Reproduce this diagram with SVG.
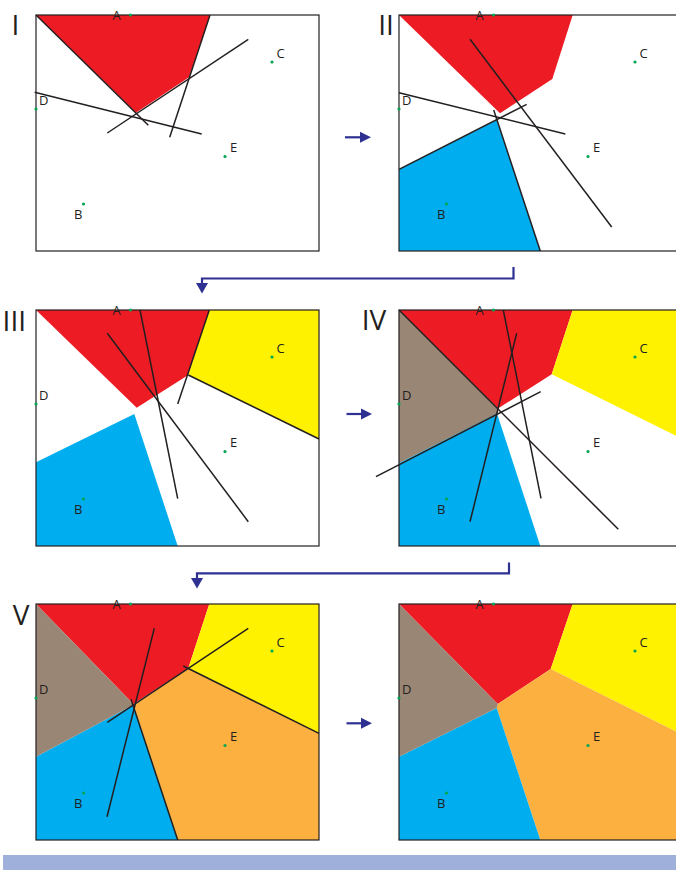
<svg xmlns="http://www.w3.org/2000/svg" width="676" height="870" viewBox="0 0 676 870">
<defs>
<style>
.frame{fill:none;stroke:#231f20;stroke-width:1.2}
.ln{stroke:#231f20;stroke-width:1.5;fill:none;stroke-linecap:butt}
.red{fill:#ed1c24}.yel{fill:#fff200}.blu{fill:#00aeef}.gry{fill:#998675}.org{fill:#fbb040}
.dot{fill:#00a651}
.pt{font-family:"Open Sans","Liberation Sans",sans-serif;font-size:13px;fill:#231f20}
.num{font-family:"Open Sans","Liberation Sans",sans-serif;font-size:28px;fill:#231f20;text-anchor:middle}
.con{stroke:#2e3192;stroke-width:2.2;fill:none}
.head{fill:#2e3192}
</style>
<g id="pts">
<circle class="dot" cx="94.5" cy="0" r="1.6"/>
<circle class="dot" cx="236" cy="47" r="1.6"/>
<circle class="dot" cx="0" cy="94" r="1.6"/>
<circle class="dot" cx="189" cy="141.5" r="1.6"/>
<circle class="dot" cx="47.5" cy="189" r="1.6"/>
<text class="pt" x="80.5" y="5" text-anchor="middle">A</text>
<text class="pt" x="240.5" y="43">C</text>
<text class="pt" x="3" y="89.5">D</text>
<text class="pt" x="194" y="137">E</text>
<text class="pt" x="38" y="203.5">B</text>
</g>
</defs>

<g id="panel1" transform="translate(36,15)">
<polygon class="red" points="0,0 174,0 153,62.3 100,97.7"/>
<line class="ln" x1="0" y1="0" x2="112.3" y2="110.3"/>
<line class="ln" x1="174" y1="0" x2="133.7" y2="122.3"/>
<line class="ln" x1="212.3" y1="24.3" x2="71.3" y2="118"/>
<line class="ln" x1="-1.3" y1="77.3" x2="165.7" y2="119"/>
<rect class="frame" x="0" y="0" width="283" height="236"/>
<use href="#pts"/>
</g>
<text class="num" x="15.5" y="35">I</text>

<g id="panel2" transform="translate(399,15)">
<polygon class="red" points="0,0 173.7,0 153.3,64 101,98.3"/>
<polygon class="blu" points="0,154.3 97.7,105 141.3,236 0,236"/>
<line class="ln" x1="71" y1="24.3" x2="212.7" y2="212"/>
<line class="ln" x1="0" y1="77.7" x2="166.3" y2="119"/>
<line class="ln" x1="0" y1="154.3" x2="127.7" y2="89.3"/>
<line class="ln" x1="94.7" y1="95" x2="141.3" y2="236"/>
<rect class="frame" x="0" y="0" width="283" height="236"/>
<use href="#pts"/>
</g>
<text class="num" x="386" y="35">II</text>

<g id="panel3" transform="translate(36,310)">
<polygon class="red" points="0,0 173.3,0 152.3,65 100.7,97.7"/>
<polygon class="yel" points="173.3,0 283,0 283,129 152.3,65"/>
<polygon class="blu" points="0,152.3 98.3,104 141.7,236 0,236"/>
<line class="ln" x1="173.3" y1="0" x2="141.7" y2="94"/>
<line class="ln" x1="152.3" y1="65" x2="283" y2="129"/>
<line class="ln" x1="104" y1="0" x2="141.7" y2="188.7"/>
<line class="ln" x1="71.3" y1="23.3" x2="212.3" y2="211.7"/>
<rect class="frame" x="0" y="0" width="283" height="236"/>
<use href="#pts"/>
</g>
<text class="num" x="14.3" y="331">III</text>

<g id="panel4" transform="translate(399,310)">
<polygon class="red" points="0,0 173.7,0 152.7,64.3 99,98.5"/>
<polygon class="yel" points="173.7,0 283,0 283,128.7 152.7,64.3"/>
<polygon class="gry" points="0,0 99,99 98.5,103.5 0,153.3"/>
<polygon class="blu" points="0,153.3 98,103.5 141.3,236 0,236"/>
<line class="ln" x1="0" y1="0" x2="219.3" y2="219.3"/>
<line class="ln" x1="-23" y1="166.7" x2="141.7" y2="81.7"/>
<line class="ln" x1="104.3" y1="0" x2="142" y2="188.3"/>
<line class="ln" x1="117.7" y1="23.3" x2="71" y2="211.7"/>
<rect class="frame" x="0" y="0" width="283" height="236"/>
<use href="#pts"/>
</g>
<text class="num" x="374" y="330">IV</text>

<g id="panel5" transform="translate(36,604)">
<polygon class="red" points="0,0 173.3,0 152.3,64.3 97.3,100"/>
<polygon class="yel" points="173.3,0 283,0 283,129.3 152.3,64.3"/>
<polygon class="org" points="152.3,64.3 283,129.3 283,236 141.7,236 97.3,101"/>
<polygon class="blu" points="0,152.7 97.3,101 141.7,236 0,236"/>
<polygon class="gry" points="0,0 97.3,100 97.3,101 0,152.7"/>
<line class="ln" x1="118.3" y1="24.3" x2="71" y2="212.7"/>
<line class="ln" x1="212.3" y1="24.3" x2="71.3" y2="118.3"/>
<line class="ln" x1="147.3" y1="62" x2="283" y2="129.3"/>
<line class="ln" x1="95" y1="95.3" x2="141.7" y2="236"/>
<rect class="frame" x="0" y="0" width="283" height="236"/>
<use href="#pts"/>
</g>
<text class="num" x="21" y="625">V</text>

<g id="panel6" transform="translate(399,604)">
<polygon class="red" points="0,0 173.7,0 151.7,65 98.7,100"/>
<polygon class="yel" points="173.7,0 283,0 283,130.5 151.7,65"/>
<polygon class="org" points="151.7,65 283,130.5 283,236 141.3,236 97.7,104 98.7,100"/>
<polygon class="blu" points="0,152.7 97.7,104 141.3,236 0,236"/>
<polygon class="gry" points="0,0 98.7,100 97.7,104 0,152.7"/>
<rect class="frame" x="0" y="0" width="283" height="236"/>
<use href="#pts"/>
</g>

<g id="connectors">
<line class="con" x1="345" y1="137.3" x2="362" y2="137.3"/>
<polygon class="head" points="371,137.3 360,131.8 360,142.8"/>
<line class="con" x1="346.5" y1="414" x2="363" y2="414"/>
<polygon class="head" points="372,414 361,408.5 361,419.5"/>
<line class="con" x1="346.5" y1="723.3" x2="363" y2="723.3"/>
<polygon class="head" points="372,723.3 361,717.8 361,728.8"/>
<polyline class="con" points="513.5,267 513.5,278.5 202,278.5 202,285"/>
<polygon class="head" points="202,293.5 196,283 208,283"/>
<polyline class="con" points="509,562.5 509,573.3 197,573.3 197,580"/>
<polygon class="head" points="197,588.5 191,578 203,578"/>
</g>

<rect id="footer" x="3" y="855" width="673" height="15" fill="#9fb0da"/>
</svg>
